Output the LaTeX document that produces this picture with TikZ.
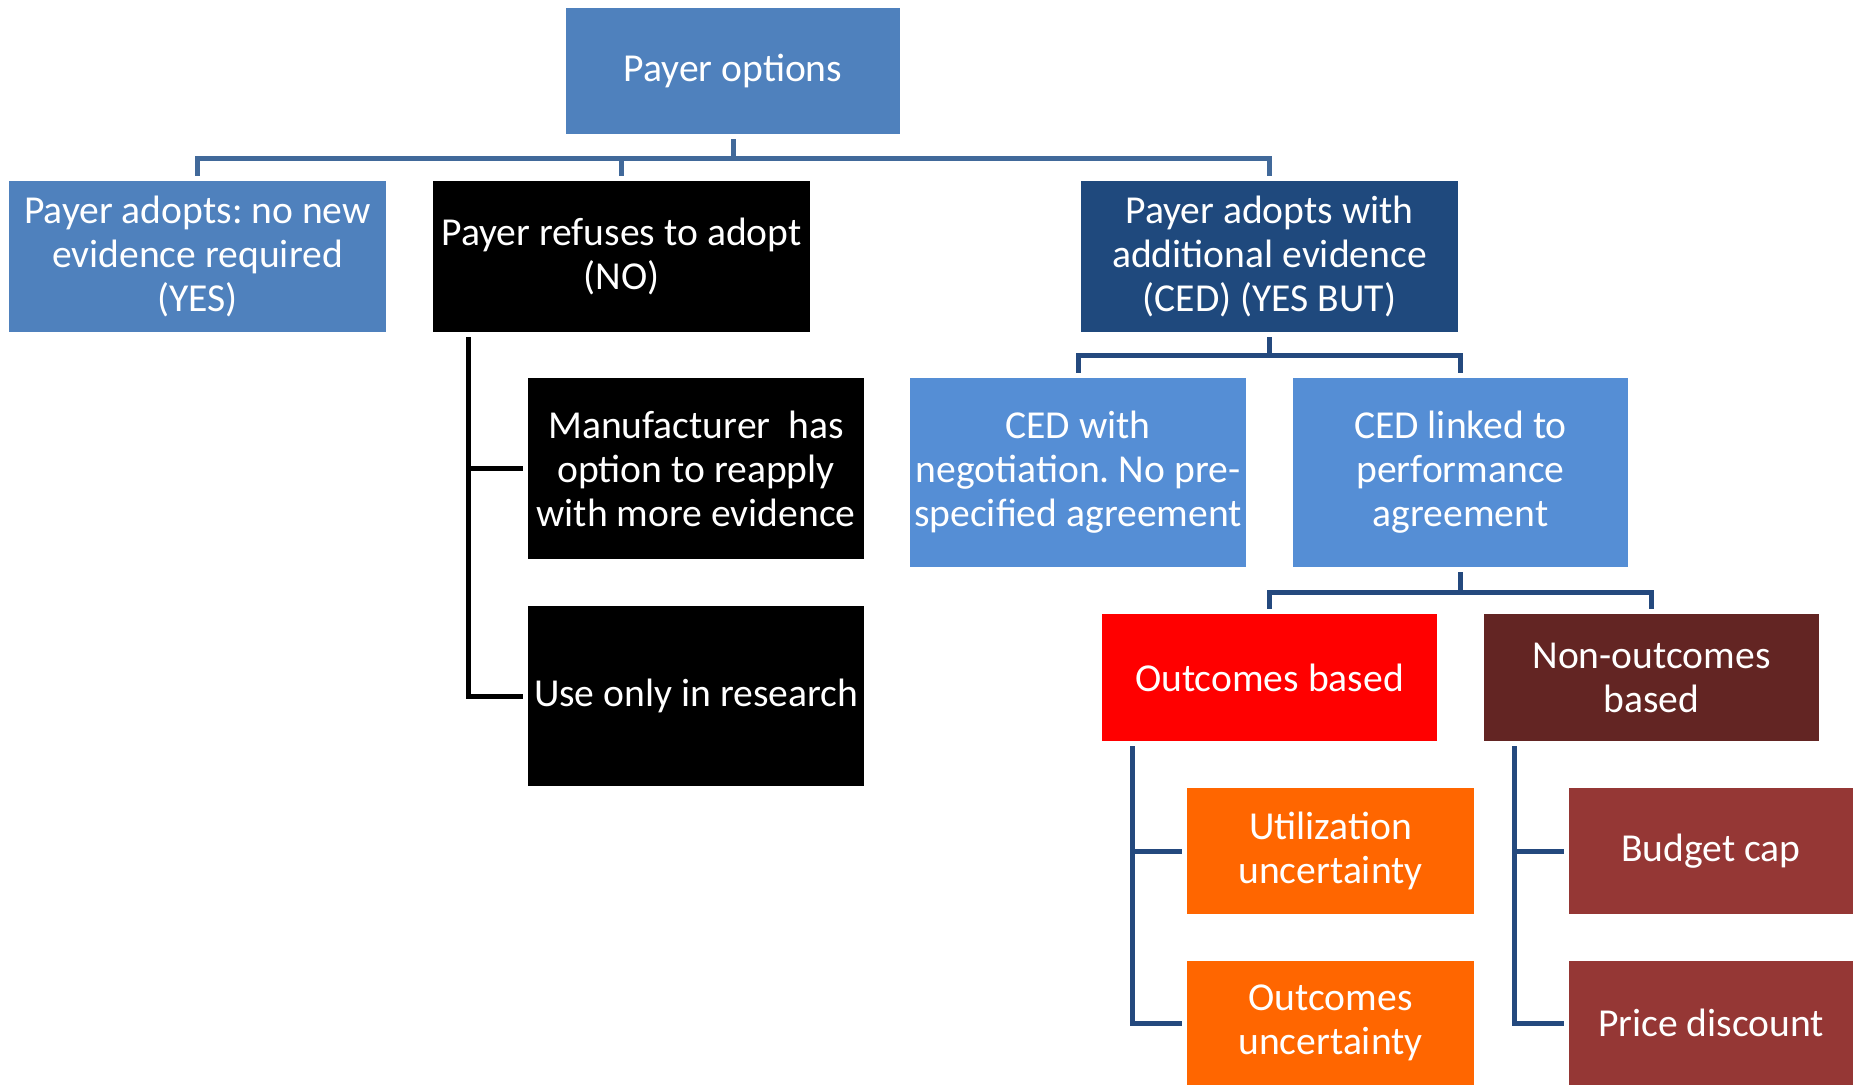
\documentclass[tikz,border=0pt]{standalone}
\usepackage{fontspec}
\setmainfont{Carlito}
\frenchspacing
\definecolor{optblue}{HTML}{4F81BD}
\definecolor{cedblue}{HTML}{1F497D}
\definecolor{subblue}{HTML}{558ED5}
\definecolor{outred}{HTML}{FF0000}
\definecolor{nonred}{HTML}{632523}
\definecolor{uncorange}{HTML}{FF6600}
\definecolor{payred}{HTML}{953735}
\definecolor{topline}{HTML}{41699A}
\definecolor{lowline}{HTML}{24497E}
\begin{document}
\begin{tikzpicture}[x=1pt,y=-1pt,
    box/.style={rectangle,inner sep=0pt,text=white,align=center,font=\fontsize{19.8}{22}\selectfont},
    link/.style={line width=2.5pt,shorten <=2.5pt,shorten >=2.5pt}]
            \useasboundingbox (0,0) rectangle (926.5,542.5);

            \node[box,fill=optblue,minimum width=167pt,minimum height=63pt] (opt) at (366.5,35.5) {Payer options};
            \node[box,fill=optblue,minimum width=188.5pt,minimum height=75.5pt] (yes) at (98.75,128.25) {Payer adopts: no new\\evidence required\\(YES)};
            \node[box,fill=black,minimum width=188.5pt,minimum height=75.5pt] (no) at (310.75,128.25) {Payer refuses to adopt\\(NO)};
            \node[box,fill=cedblue,minimum width=188.5pt,minimum height=75.5pt] (ced) at (634.75,128.25) {Payer adopts with\\additional evidence\\(CED) (YES BUT)};

            \node[box,fill=black,minimum width=168pt,minimum height=90.5pt] (manu) at (348,234.25) {Manufacturer\ \ has\\option to reapply\\with more evidence};
            \node[box,fill=black,minimum width=168pt,minimum height=90pt] (res) at (348,348) {Use only in research};

            \node[box,fill=subblue,minimum width=168pt,minimum height=94.5pt] (nego) at (539,236.25) {CED with\\negotiation. No pre-\\specified agreement};
            \node[box,fill=subblue,minimum width=167.5pt,minimum height=94.5pt] (linked) at (730.25,236.25) {CED linked to\\performance\\agreement};

            \node[box,fill=outred,minimum width=167.5pt,minimum height=63.5pt] (outc) at (634.75,338.75) {Outcomes based};
            \node[box,fill=nonred,minimum width=167.5pt,minimum height=63.5pt] (nonout) at (825.75,338.75) {Non-outcomes\\based};

            \node[box,fill=uncorange,minimum width=143.5pt,minimum height=63pt] (util) at (665.25,425.5) {Utilization\\uncertainty};
            \node[box,fill=uncorange,minimum width=143.5pt,minimum height=62pt] (outunc) at (665.25,511.5) {Outcomes\\uncertainty};
            \node[box,fill=payred,minimum width=142pt,minimum height=63pt] (budget) at (855.5,425.5) {Budget cap};
            \node[box,fill=payred,minimum width=142pt,minimum height=62pt] (price) at (855.5,511.5) {Price discount};

            % forks
            \foreach \kid in {yes, no, ced} {
                \draw[link,topline] (opt.south) -- ++(0,12) -| (\kid.north);
            }
            \foreach \kid in {nego, linked} {
                \draw[link,lowline] (ced.south) -- ++(0,11.5) -| (\kid.north);
            }
            \foreach \kid in {outc, nonout} {
                \draw[link,lowline] (linked.south) -- ++(0,12.5) -| (\kid.north);
            }

            % side branches
            \foreach \kid in {manu, res} {
                \draw[link,black] (no.south west) ++(18,0) |- (\kid.west);
            }
            \foreach \kid in {util, outunc} {
                \draw[link,lowline] (outc.south west) ++(15.5,0) |- (\kid.west);
            }
            \foreach \kid in {budget, price} {
                \draw[link,lowline] (nonout.south west) ++(15.5,0) |- (\kid.west);
            }
        \end{tikzpicture}
\end{document}
